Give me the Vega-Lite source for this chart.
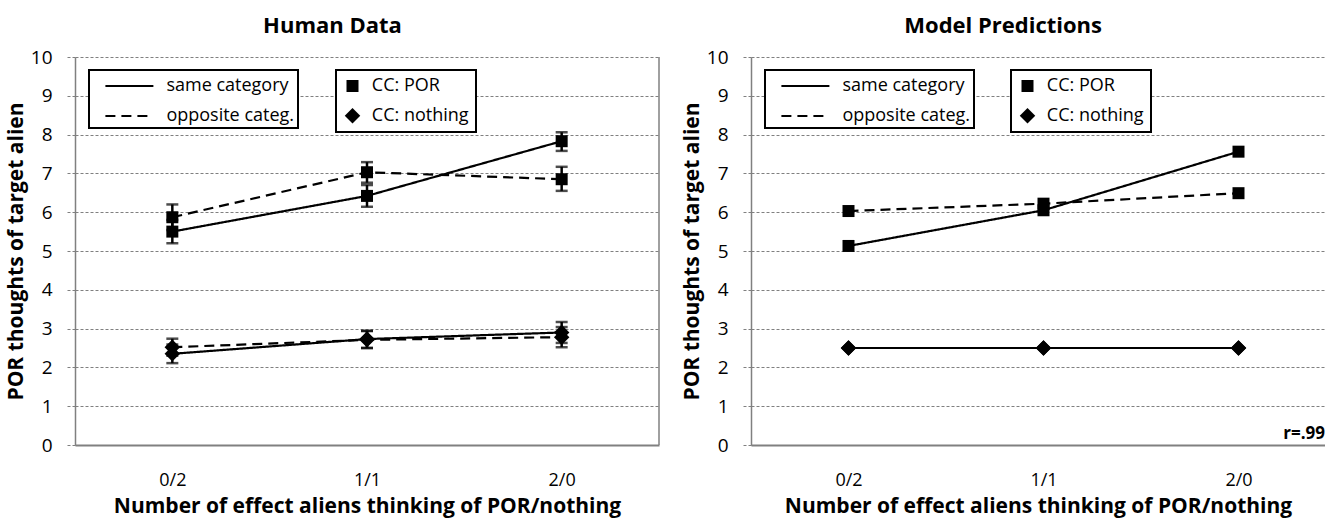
{
  "$schema": "https://vega.github.io/schema/vega-lite/v6.json",
  "padding": {"left": 5, "top": 14, "right": 0, "bottom": 8},
  "autosize": {"type": "pad"},
  "spacing": 21,
  "datasets": {
    "human": [
      {"n": 0, "relation": "same category", "cc": "CC: POR", "y": 5.50, "lo": 5.20, "hi": 5.80},
      {"n": 1, "relation": "same category", "cc": "CC: POR", "y": 6.42, "lo": 6.14, "hi": 6.70},
      {"n": 2, "relation": "same category", "cc": "CC: POR", "y": 7.83, "lo": 7.58, "hi": 8.06},
      {"n": 0, "relation": "opposite categ.", "cc": "CC: POR", "y": 5.87, "lo": 5.54, "hi": 6.20},
      {"n": 1, "relation": "opposite categ.", "cc": "CC: POR", "y": 7.03, "lo": 6.76, "hi": 7.29},
      {"n": 2, "relation": "opposite categ.", "cc": "CC: POR", "y": 6.85, "lo": 6.55, "hi": 7.17},
      {"n": 0, "relation": "same category", "cc": "CC: nothing", "y": 2.35, "lo": 2.11, "hi": 2.59},
      {"n": 1, "relation": "same category", "cc": "CC: nothing", "y": 2.73, "lo": 2.50, "hi": 2.94},
      {"n": 2, "relation": "same category", "cc": "CC: nothing", "y": 2.90, "lo": 2.63, "hi": 3.17},
      {"n": 0, "relation": "opposite categ.", "cc": "CC: nothing", "y": 2.52, "lo": 2.30, "hi": 2.74},
      {"n": 1, "relation": "opposite categ.", "cc": "CC: nothing", "y": 2.71, "lo": 2.50, "hi": 2.94},
      {"n": 2, "relation": "opposite categ.", "cc": "CC: nothing", "y": 2.78, "lo": 2.52, "hi": 3.04}
    ],
    "model": [
      {"n": 0, "relation": "same category", "cc": "CC: POR", "y": 5.13},
      {"n": 1, "relation": "same category", "cc": "CC: POR", "y": 6.05},
      {"n": 2, "relation": "same category", "cc": "CC: POR", "y": 7.56},
      {"n": 0, "relation": "opposite categ.", "cc": "CC: POR", "y": 6.03},
      {"n": 1, "relation": "opposite categ.", "cc": "CC: POR", "y": 6.22},
      {"n": 2, "relation": "opposite categ.", "cc": "CC: POR", "y": 6.49},
      {"n": 0, "relation": "same category", "cc": "CC: nothing", "y": 2.5},
      {"n": 1, "relation": "same category", "cc": "CC: nothing", "y": 2.5},
      {"n": 2, "relation": "same category", "cc": "CC: nothing", "y": 2.5},
      {"n": 0, "relation": "opposite categ.", "cc": "CC: nothing", "y": 2.5},
      {"n": 1, "relation": "opposite categ.", "cc": "CC: nothing", "y": 2.5},
      {"n": 2, "relation": "opposite categ.", "cc": "CC: nothing", "y": 2.5}
    ],
    "note": [{"label": "r=.99", "y": 0.15}],
    "border": [{"lo": 0, "hi": 10}]
  },
  "resolve": {
    "scale": {"strokeDash": "independent", "shape": "independent", "size": "independent", "x": "independent"},
    "legend": {"strokeDash": "independent", "shape": "independent", "size": "independent"}
  },
  "hconcat": [
    {
      "title": "Human Data",
      "width": 584,
      "height": 388,
      "layer": [
        {
          "data": {"name": "border"},
          "mark": {"type": "rule", "color": "#808080", "strokeWidth": 1.5},
          "encoding": {
            "x": {"value": "width"},
            "y": {"field": "lo", "type": "quantitative", "scale": {"domain": [0, 10], "nice": false}, "title": "POR thoughts of target alien", "axis": {"values": [0,1,2,3,4,5,6,7,8,9,10], "tickCount": 11}},
            "y2": {"field": "hi"}
          }
        },
        {
          "data": {"name": "human"},
          "mark": {"type": "errorbar", "color": "black", "thickness": 2.5, "ticks": {"size": 12, "thickness": 2.5, "color": "black"}},
          "encoding": {
            "x": {"field": "n", "type": "quantitative", "scale": {"domain": [-0.5, 2.5], "nice": false, "zero": false}, "title": "Number of effect aliens thinking of POR/nothing", "axis": {"values": [0, 1, 2], "labelExpr": "datum.value == 0 ? '0/2' : datum.value == 1 ? '1/1' : '2/0'"}},
            "y": {"field": "lo", "type": "quantitative", "scale": {"domain": [0, 10], "nice": false}, "title": "POR thoughts of target alien", "axis": {"values": [0,1,2,3,4,5,6,7,8,9,10], "tickCount": 11}},
            "y2": {"field": "hi"},
            "detail": [{"field": "relation"}, {"field": "cc"}]
          }
        },
        {
          "data": {"name": "human"},
          "mark": {"type": "line", "color": "black", "strokeWidth": 2.2},
          "encoding": {
            "x": {"field": "n", "type": "quantitative", "scale": {"domain": [-0.5, 2.5], "nice": false, "zero": false}, "title": "Number of effect aliens thinking of POR/nothing", "axis": {"values": [0, 1, 2], "labelExpr": "datum.value == 0 ? '0/2' : datum.value == 1 ? '1/1' : '2/0'"}},
            "y": {"field": "y", "type": "quantitative", "title": "POR thoughts of target alien", "axis": {"values": [0,1,2,3,4,5,6,7,8,9,10], "tickCount": 11}},
            "strokeDash": {"field": "relation", "type": "nominal", "scale": {"domain": ["same category", "opposite categ."], "range": [[1, 0], [10, 6]]},
              "legend": {"title": null, "orient": "none", "legendX": 14, "legendY": 13, "padding": 3, "rowPadding": 8, "symbolSize": 576, "symbolType": "M-2,0H2", "symbolStrokeWidth": 2, "symbolStrokeColor": "black", "symbolOffset": 24.4, "labelOffset": 24}},
            "detail": {"field": "cc"}
          }
        },
        {
          "data": {"name": "human"},
          "mark": {"type": "point", "filled": true, "opacity": 1, "color": "black"},
          "encoding": {
            "x": {"field": "n", "type": "quantitative", "title": "Number of effect aliens thinking of POR/nothing", "axis": {"values": [0, 1, 2], "labelExpr": "datum.value == 0 ? '0/2' : datum.value == 1 ? '1/1' : '2/0'"}},
            "y": {"field": "y", "type": "quantitative", "title": "POR thoughts of target alien", "axis": {"values": [0,1,2,3,4,5,6,7,8,9,10], "tickCount": 11}},
            "shape": {"field": "cc", "type": "nominal", "scale": {"domain": ["CC: POR", "CC: nothing"], "range": ["square", "diamond"]},
              "legend": {"title": null, "orient": "none", "legendX": 261, "legendY": 13, "padding": 7, "rowPadding": 11.7, "symbolFillColor": "black", "symbolStrokeWidth": 0, "labelOffset": 10.3, "symbolOffset": 0.5}},
            "size": {"field": "cc", "type": "nominal", "scale": {"domain": ["CC: POR", "CC: nothing"], "range": [144, 240]},
              "legend": {"title": null, "orient": "none", "legendX": 261, "legendY": 13, "padding": 7, "rowPadding": 11.7, "symbolFillColor": "black", "symbolStrokeWidth": 0, "labelOffset": 10.3, "symbolOffset": 0.5}}
          }
        }
      ]
    },
    {
      "title": "Model Predictions",
      "width": 574,
      "height": 388,
      "layer": [
        {
          "data": {"name": "model"},
          "mark": {"type": "line", "color": "black", "strokeWidth": 2.2},
          "encoding": {
            "x": {"field": "n", "type": "quantitative", "scale": {"domain": [-0.5, 2.4436], "nice": false, "zero": false}, "title": "Number of effect aliens thinking of POR/nothing", "axis": {"values": [0, 1, 2], "labelExpr": "datum.value == 0 ? '0/2' : datum.value == 1 ? '1/1' : '2/0'"}},
            "y": {"field": "y", "type": "quantitative", "scale": {"domain": [0, 10], "nice": false}, "title": "POR thoughts of target alien", "axis": {"values": [0,1,2,3,4,5,6,7,8,9,10], "tickCount": 11}},
            "strokeDash": {"field": "relation", "type": "nominal", "scale": {"domain": ["same category", "opposite categ."], "range": [[1, 0], [10, 6]]},
              "legend": {"title": null, "orient": "none", "legendX": 14, "legendY": 13, "padding": 3, "rowPadding": 8, "symbolSize": 576, "symbolType": "M-2,0H2", "symbolStrokeWidth": 2, "symbolStrokeColor": "black", "symbolOffset": 24.4, "labelOffset": 24}},
            "detail": {"field": "cc"}
          }
        },
        {
          "data": {"name": "model"},
          "mark": {"type": "point", "filled": true, "opacity": 1, "color": "black"},
          "encoding": {
            "x": {"field": "n", "type": "quantitative", "title": "Number of effect aliens thinking of POR/nothing", "axis": {"values": [0, 1, 2], "labelExpr": "datum.value == 0 ? '0/2' : datum.value == 1 ? '1/1' : '2/0'"}},
            "y": {"field": "y", "type": "quantitative", "title": "POR thoughts of target alien", "axis": {"values": [0,1,2,3,4,5,6,7,8,9,10], "tickCount": 11}},
            "shape": {"field": "cc", "type": "nominal", "scale": {"domain": ["CC: POR", "CC: nothing"], "range": ["square", "diamond"]},
              "legend": {"title": null, "orient": "none", "legendX": 260, "legendY": 13, "padding": 7, "rowPadding": 11.7, "symbolFillColor": "black", "symbolStrokeWidth": 0, "labelOffset": 10.3, "symbolOffset": 0.5}},
            "size": {"field": "cc", "type": "nominal", "scale": {"domain": ["CC: POR", "CC: nothing"], "range": [144, 240]},
              "legend": {"title": null, "orient": "none", "legendX": 260, "legendY": 13, "padding": 7, "rowPadding": 11.7, "symbolFillColor": "black", "symbolStrokeWidth": 0, "labelOffset": 10.3, "symbolOffset": 0.5}}
          }
        },
        {
          "data": {"name": "note"},
          "mark": {"type": "text", "align": "right", "baseline": "alphabetic", "fontWeight": "bold", "fontSize": 17, "color": "black"},
          "encoding": {
            "x": {"value": "width"},
            "y": {"field": "y", "type": "quantitative", "title": "POR thoughts of target alien", "axis": {"values": [0,1,2,3,4,5,6,7,8,9,10], "tickCount": 11}},
            "text": {"field": "label"}
          }
        }
      ]
    }
  ],
  "config": {
    "font": "Open Sans",
    "view": {"stroke": null},
    "title": {"fontSize": 22, "fontWeight": "bold", "color": "black", "anchor": "middle", "frame": "bounds", "baseline": "alphabetic", "offset": 10.5},
    "axisY": {"grid": true, "tickCount": 11, "gridColor": "#808080", "gridDash": [3, 2], "gridWidth": 1, "domainColor": "#808080", "domainWidth": 1.5, "tickColor": "#808080", "tickDash": [3, 2], "tickSize": 8, "labelFontSize": 19, "labelColor": "black", "labelPadding": 15, "labelOverlap": false, "titleFontSize": 21, "titleFontWeight": "bold", "titleColor": "black", "titlePadding": 4},
    "axisX": {"grid": false, "ticks": false, "tickSize": 0, "domainColor": "#808080", "domainWidth": 2, "labelFontSize": 18, "labelColor": "black", "labelPadding": 26, "labelAngle": 0, "labelBaseline": "top", "titleFontSize": 21, "titleFontWeight": "bold", "titleColor": "black", "titlePadding": 6},
    "legend": {"strokeColor": "black", "strokeWidth": 2, "fillColor": "white", "labelFontSize": 18, "labelColor": "black"}
  }
}
